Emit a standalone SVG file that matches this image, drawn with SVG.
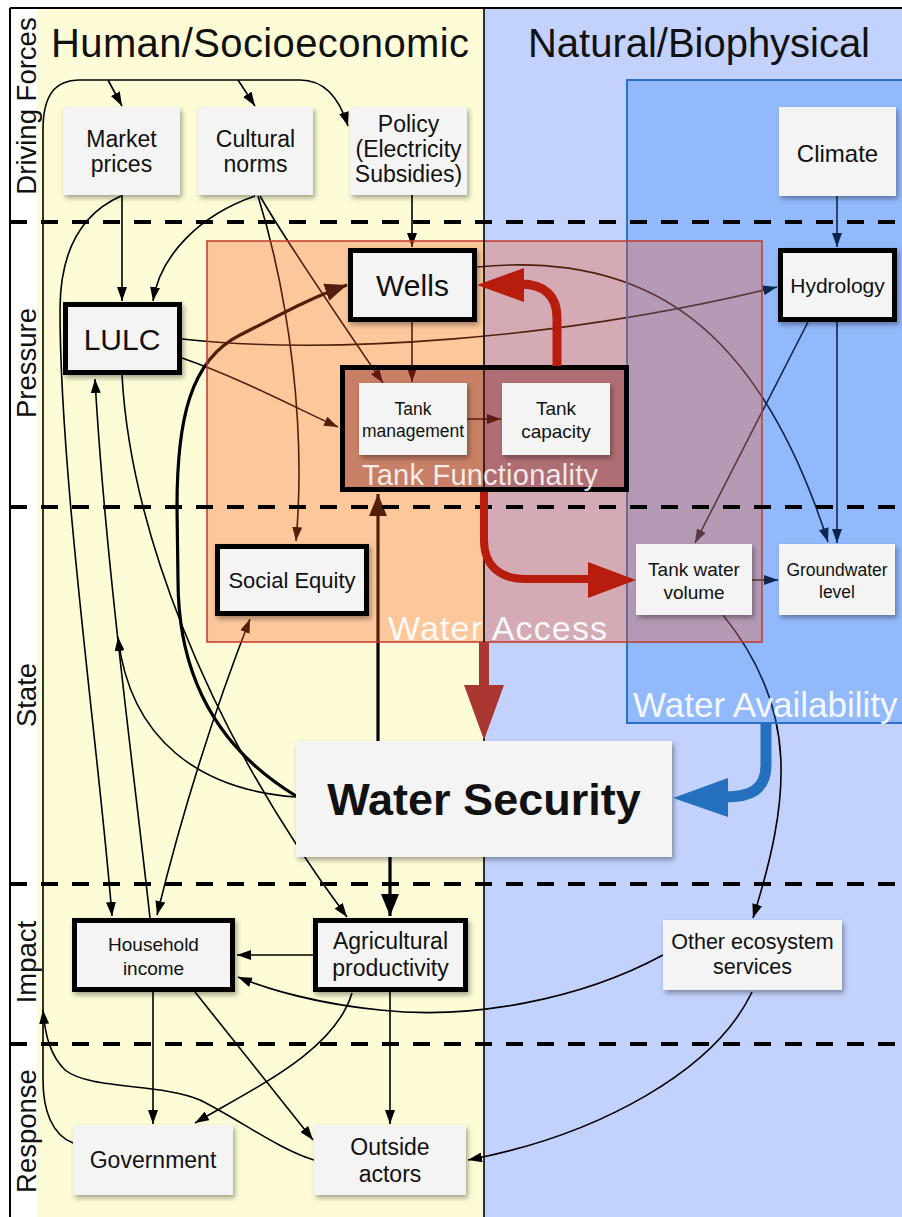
<svg xmlns="http://www.w3.org/2000/svg" width="902" height="1217" viewBox="0 0 902 1217">
<defs>
<style>
text { font-family: "Liberation Sans", Arial, Helvetica, sans-serif; fill: #111; text-anchor: middle; }
.n { fill: #f4f4f4; filter: url(#sh); }
.nt { fill: #f4f4f4; stroke: #000; stroke-width: 5; filter: url(#sh); }
.c { fill: none; stroke: #000; stroke-width: 1.6; marker-end: url(#a); }
.ck { fill: none; stroke: #000; stroke-width: 3.2; marker-end: url(#ab); }
.dash { stroke: #000; stroke-width: 4; stroke-dasharray: 17 14; fill: none; }
.row { font-size: 27.5px; }
.rl { fill: #fff; }
</style>
<marker id="a" markerUnits="userSpaceOnUse" markerWidth="14" markerHeight="10" refX="14" refY="5" orient="auto-start-reverse">
<path d="M0,0 L14,5 L0,10 Z" fill="#000"/>
</marker>
<marker id="ab" markerUnits="userSpaceOnUse" markerWidth="22" markerHeight="18" refX="22" refY="9" orient="auto">
<path d="M0,0 L22,9 L0,18 Z" fill="#000"/>
</marker>
<filter id="sh" x="-10%" y="-10%" width="130%" height="140%">
<feDropShadow dx="2" dy="3" stdDeviation="2.5" flood-color="#000" flood-opacity="0.35"/>
</filter>
</defs>

<g id="background">
<rect x="0" y="0" width="902" height="1217" fill="#fff"/>
<rect x="37" y="8" width="447" height="1209" fill="#fefcd6"/>
<rect x="484" y="8" width="418" height="1209" fill="#c2d2fd"/>
</g>

<g id="connectors">
<path class="c" d="M73,1143 C52,1135 43,1110 43,1080 L43,130 C43,95 55,80 80,80 L300,80 C325,80 340,100 348,126"/>
<path class="c" d="M108,80 L122,106"/>
<path class="c" d="M238,80 L255,106"/>
<path class="c" d="M314,1160 C280,1150 240,1120 200,1100 C160,1083 90,1090 65,1070 C50,1055 45,1035 43,1010"/>
<path class="c" d="M122,195 L122,301"/>
<path class="c" d="M121,196 C85,212 60,245 60,310 C60,480 100,760 112,916"/>
<path class="c" d="M255,196 C200,215 160,255 153,301"/>
<path class="c" d="M258,196 C290,300 306,430 296,541"/>
<path class="c" d="M260,196 C285,240 340,320 383,383"/>
<path class="c" d="M182,339 C330,355 560,340 777,287"/>
<path class="c" d="M182,358 C240,378 300,410 338,427"/>
<path class="c" d="M412,322 L412,382"/>
<path class="c" d="M477,267 C650,250 760,330 828,542"/>
<path class="c" d="M837,322 L837,543"/>
<path class="c" d="M808,322 L695,543"/>
<path class="c" d="M837,196 L837,247"/>
<path class="c" d="M412,195 L412,247"/>
<path class="c" d="M467,419 L501,419"/>
<path class="c" d="M752,580 L778,580"/>
<path class="c" d="M723,615 C800,710 790,800 753,918"/>
<path class="c" d="M663,955 C580,1000 470,1020 380,1010 C320,1004 270,990 238,977"/>
<path class="c" d="M752,992 C715,1070 600,1135 468,1160"/>
<path class="c" d="M313,955 L237,955"/>
<path class="c" d="M153,992 L153,1124"/>
<path class="c" d="M195,992 L313,1140"/>
<path class="c" d="M352,993 C335,1050 260,1085 195,1123"/>
<path class="c" d="M390,992 L390,1124"/>
<path class="c" d="M296,797 C200,790 130,740 118,637"/>
<path class="c" d="M150,918 C135,780 105,560 95,379"/>
<path class="c" d="M122,375 C130,520 200,720 347,917"/>
<path class="c" d="M157,915 Q195,760 250,619" marker-start="url(#a)"/>
<path class="ck" d="M390,857 L390,916"/>
<path class="ck" d="M378,741 L378,494"/>
<path class="ck" stroke-width="4" d="M296,796 C220,750 178,680 178,580 L177,507 C177,420 190,360 240,335 C280,315 310,298 347,285"/>
</g>

<g id="regions">
<rect id="water-availability" x="627" y="80" width="285" height="643" fill="rgb(40,130,255)" fill-opacity="0.3" stroke="#2a70c4" stroke-width="2"/>
<rect id="water-access" x="207" y="241" width="555" height="401" fill="rgb(249,93,39)" fill-opacity="0.333" stroke="#c0392b" stroke-width="1.5"/>
</g>

<g id="grid">
<line x1="10" y1="8" x2="902" y2="8" stroke="#000" stroke-width="2"/>
<line x1="10" y1="8" x2="10" y2="1217" stroke="#000" stroke-width="2"/>
<line x1="484" y1="8" x2="484" y2="1217" stroke="#000" stroke-width="1.6"/>
<line class="dash" x1="10" y1="222" x2="902" y2="222"/>
<line class="dash" x1="10" y1="507" x2="902" y2="507"/>
<line class="dash" x1="10" y1="884" x2="902" y2="884"/>
<line class="dash" x1="10" y1="1044" x2="902" y2="1044"/>
<text class="row" transform="translate(36,106) rotate(-90)">Driving Forces</text>
<text class="row" transform="translate(36,363) rotate(-90)">Pressure</text>
<text class="row" transform="translate(36,695) rotate(-90)">State</text>
<text class="row" transform="translate(36,962) rotate(-90)">Impact</text>
<text class="row" transform="translate(36,1131) rotate(-90)">Response</text>
<text x="260" y="57" font-size="40" textLength="418">Human/Socioeconomic</text>
<text x="699" y="57" font-size="40" textLength="342">Natural/Biophysical</text>
</g>

<g id="tank-functionality">
<rect x="342.5" y="367.5" width="284" height="122" fill="rgb(120,20,20)" fill-opacity="0.4" stroke="#000" stroke-width="5"/>
</g>

<g id="nodes">
<g id="market-prices"><rect class="n" x="63" y="107" width="117" height="88"/><text x="121.5" y="147" font-size="23">Market</text><text x="121.5" y="172" font-size="23">prices</text></g>
<g id="cultural-norms"><rect class="n" x="198" y="107" width="115" height="88"/><text x="255.5" y="147" font-size="23">Cultural</text><text x="255.5" y="172" font-size="23">norms</text></g>
<g id="policy"><rect class="n" x="350" y="107" width="117" height="88"/><text x="408.5" y="132" font-size="23">Policy</text><text x="408.5" y="157" font-size="23">(Electricity</text><text x="408.5" y="182" font-size="23">Subsidies)</text></g>
<g id="climate"><rect class="n" x="779" y="107" width="117" height="89"/><text x="837.5" y="162" font-size="24">Climate</text></g>
<g id="lulc"><rect class="nt" x="65.5" y="304.5" width="114" height="68"/><text x="122" y="350" font-size="30">LULC</text></g>
<g id="wells"><rect class="nt" x="350.5" y="250.5" width="124" height="69"/><text x="412.5" y="296" font-size="30">Wells</text></g>
<g id="hydrology"><rect class="nt" x="780.5" y="250.5" width="114" height="69"/><text x="837.5" y="293" font-size="21">Hydrology</text></g>
<g id="tank-management"><rect class="n" x="359" y="383" width="108" height="72"/><text x="413" y="415" font-size="17.5">Tank</text><text x="413" y="437" font-size="17.5">management</text></g>
<g id="tank-capacity"><rect class="n" x="502" y="383" width="108" height="72"/><text x="556" y="415" font-size="19">Tank</text><text x="556" y="438" font-size="19">capacity</text></g>
<g id="social-equity"><rect class="nt" x="217.5" y="546.5" width="149" height="67"/><text x="292" y="588" font-size="22">Social Equity</text></g>
<g id="tank-water-volume"><rect class="n" x="636" y="544" width="116" height="71"/><text x="694" y="576" font-size="19">Tank water</text><text x="694" y="599" font-size="19">volume</text></g>
<g id="groundwater-level"><rect class="n" x="779" y="544" width="116" height="71"/><text x="837" y="576" font-size="17.5">Groundwater</text><text x="837" y="598" font-size="17.5">level</text></g>
<g id="water-security"><rect class="n" x="296" y="741" width="376" height="116"/><text x="484" y="815" font-size="45" font-weight="bold">Water Security</text></g>
<g id="household-income"><rect class="nt" x="74.5" y="920.5" width="158" height="69"/><text x="153.5" y="951" font-size="19">Household</text><text x="153.5" y="975" font-size="19">income</text></g>
<g id="agricultural-productivity"><rect class="nt" x="315.5" y="920.5" width="150" height="69"/><text x="390.5" y="949" font-size="23">Agricultural</text><text x="390.5" y="976" font-size="23">productivity</text></g>
<g id="other-ecosystem-services"><rect class="n" x="663" y="920" width="179" height="70"/><text x="752.5" y="949" font-size="21.5">Other ecosystem</text><text x="752.5" y="974" font-size="21.5">services</text></g>
<g id="government"><rect class="n" x="73" y="1125" width="160" height="70"/><text x="153" y="1168" font-size="23">Government</text></g>
<g id="outside-actors"><rect class="n" x="314" y="1125" width="152" height="70"/><text x="390" y="1155" font-size="23">Outside</text><text x="390" y="1182" font-size="23">actors</text></g>
</g>

<g id="region-labels">
<text class="rl" x="480" y="485" font-size="29" fill-opacity="0.85" textLength="236">Tank Functionality</text>
<text class="rl" x="497.5" y="640" font-size="34" fill-opacity="0.92" textLength="219">Water Access</text>
<text class="rl" x="633" y="717" font-size="35" style="text-anchor:start" fill-opacity="0.92">Water Availability</text>
</g>

<g id="region-connectors">
<path d="M557,366 L557,318 C557,296 545,284 520,284" fill="none" stroke="#b71c0c" stroke-width="9"/>
<polygon points="477,285 524,268 524,302" fill="#b71c0c"/>
<path d="M484,492 L484,540 C484,566 500,579 526,579 L592,579" fill="none" stroke="#b71c0c" stroke-width="8"/>
<polygon points="636,580 588,562 588,598" fill="#b71c0c"/>
<path d="M484,642 L484,690" fill="none" stroke="#a93631" stroke-width="10"/>
<polygon points="484,740 464,685 504,685" fill="#a93631"/>
<path d="M766,723 L766,765 C766,790 750,797 725,797" fill="none" stroke="#2470be" stroke-width="11"/>
<polygon points="673,798 728,778 728,817" fill="#2470be"/>
</g>
</svg>
